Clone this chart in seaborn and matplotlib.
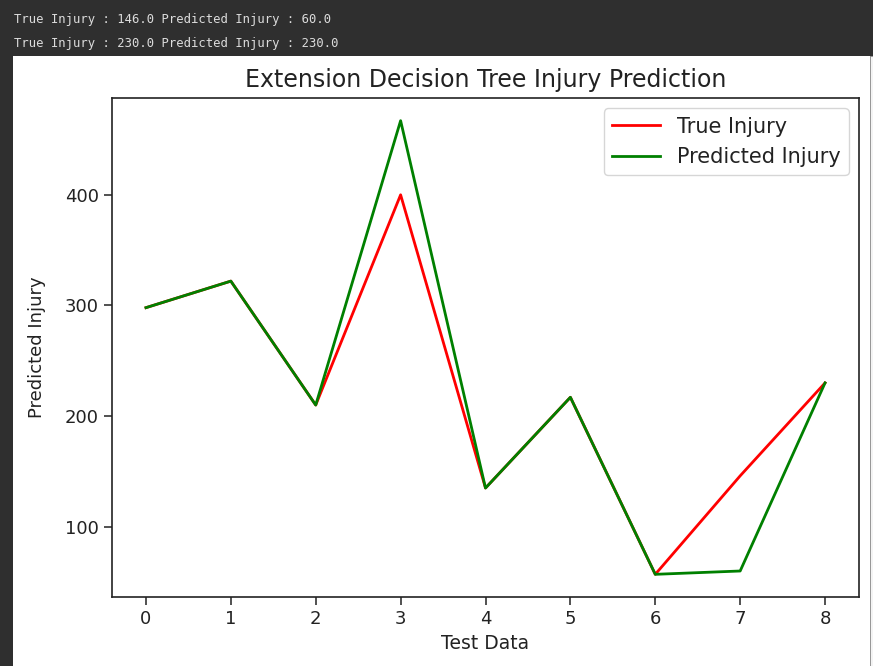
import numpy as np
import pandas as pd
import matplotlib
matplotlib.use("Agg")
import matplotlib.pyplot as plt
import seaborn as sns
from matplotlib.patches import Rectangle

test_index = [0, 1, 2, 3, 4, 5, 6, 7, 8]
true_injury = [298, 322, 210, 400, 135, 217, 57, 146, 230]
predicted_injury = [298, 322, 210, 467, 135, 217, 57, 60, 230]
header_lines = [
    "True Injury : 146.0 Predicted Injury : 60.0",
    "True Injury : 230.0 Predicted Injury : 230.0",
]

df = pd.DataFrame({
    "Test Data": test_index * 2,
    "Injury": true_injury + predicted_injury,
    "Series": ["True Injury"] * len(test_index) + ["Predicted Injury"] * len(test_index),
})

W, H = 873, 666
fig = plt.figure(figsize=(W / 100, H / 100), dpi=100)
fig.patch.set_facecolor("#2f2f2f")
fig.patches.append(Rectangle((13 / W, 0), (870 - 13) / W, 1 - 56 / H,
                             transform=fig.transFigure, facecolor="white",
                             edgecolor="none", zorder=-10))
fig.patches.append(Rectangle((870 / W, 0), 3 / W, 1 - 56 / H,
                             transform=fig.transFigure, facecolor="#f4f4f4",
                             edgecolor="#9a9a9a", linewidth=0.6, zorder=-10))

for i, line in enumerate(header_lines):
    fig.text(14 / W, 1 - (20 + 24 * i) / H, line, family="DejaVu Sans Mono",
             fontsize=8.8, color="#dcdcdc", va="center", ha="left")

ax = fig.add_axes([112 / W, 1 - 597 / H, (859 - 112) / W, (597 - 98) / H])
ax.set_zorder(5)
sns.lineplot(data=df, x="Test Data", y="Injury", hue="Series",
             palette={"True Injury": "red", "Predicted Injury": "green"},
             linewidth=2.0, ax=ax)

ax.set_title("Extension Decision Tree Injury Prediction", fontsize=17, pad=8,
             color="#222222")
ax.set_xlabel("Test Data", fontsize=13.5, color="#222222")
ax.set_ylabel("Predicted Injury", fontsize=13, color="#222222")
ax.yaxis.set_label_coords(-0.088, 0.5)
ax.set_xticks(test_index)
ax.set_yticks([100, 200, 300, 400])
ax.tick_params(labelsize=13, length=6, width=1.1, colors="#222222")
for s in ax.spines.values():
    s.set_linewidth(1.2)
    s.set_color("#222222")
leg = ax.legend(loc="upper right", fontsize=15, title=None, handlelength=2.3)
for t in leg.get_texts():
    t.set_color("#222222")

fig.savefig("out.png", dpi=100, facecolor=fig.get_facecolor())
